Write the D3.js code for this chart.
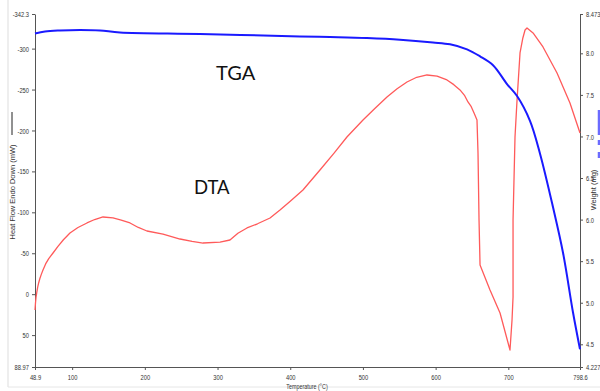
<!DOCTYPE html>
<html>
<head>
<meta charset="utf-8">
<script src="https://cdn.jsdelivr.net/npm/d3@7"></script>
<style>
  body { margin: 0; background: #fff; }
  svg { display: block; }
  .tick text { font-family: 'Liberation Sans', Arial, sans-serif; font-size: 8px; fill: #333; }
  .axis path, .axis line { stroke: #555; }
</style>
</head>
<body>
<svg id="chart" width="600" height="391"></svg>
<script>
// DTA trace: temperature (°C) / heat flow (mW)
const dtaTemp = [48.9, 49.6, 50.3, 51.4, 52.6, 54.0, 55.7, 57.7, 59.9, 63.5, 67.8, 73.7, 80.5, 88.0, 97.0, 108.0,
  120.4, 131.0, 142.4, 156.2, 167.5, 179.6, 191.0, 202.9, 225.0, 248.4, 265.0, 280.0, 303.4,
  317.1, 328.0, 340.5, 355.0, 372.2, 385.9, 400.0, 417.5, 440.9, 460.0, 478.0, 500.1, 516.0, 533.1, 547.0,
  560.6, 574.0, 588.1, 602.0, 615.6, 625.0, 633.5, 640.0, 644.5, 649.0, 653.0, 656.9, 658.3, 659.7, 661.1,
  674.8, 688.6, 702.3, 705.1, 706.5, 706.5, 709.2, 712.0, 716.1, 720.0, 723.0, 725.7,
  734.0, 747.7, 767.0, 784.8, 798.6];
const dtaHeat = [19.3, 10.5, 4.0, -2.5, -8.5, -14.0, -19.5, -24.5, -29.5, -37.0, -43.5, -50.3, -58.5, -66.5, -74.7, -81.5,
  -87.0, -91.2, -94.3, -93.1, -90.5, -87.0, -81.5, -77.2, -73.5, -67.4, -64.5, -62.5, -63.7,
  -66.2, -74.5, -80.9, -86.0, -93.1, -102.8, -113.5, -127.3, -151.7, -172.0, -192.0, -212.8, -226.5, -240.9, -251.0,
  -259.2, -265.0, -267.8, -266.5, -261.7, -256.0, -249.5, -242.5, -234.8, -229.0, -221.0, -212.8, -172.5, -90.6, -35.7,
  -5.1, 23.0, 68.2, 31.5, 3.4, -90.6, -192.0, -237.2, -294.7, -313.0, -322.8, -325.2,
  -319.1, -302.0, -270.2, -233.6, -196.9];

// TGA trace: temperature (°C) / weight (mg)
const tgaTemp = [48.9, 62.7, 83.3, 110.8, 138.3, 165.8, 275.9, 413.4, 454.7, 505.6, 551.0, 596.4, 619.8, 643.2,
  661.1, 679.0, 698.2, 712.0, 729.8, 743.6, 761.5, 775.3, 789.0, 798.6];
const tgaWeight = [8.239, 8.263, 8.275, 8.281, 8.275, 8.251, 8.232, 8.203, 8.195, 8.183, 8.164, 8.131, 8.108, 8.048,
  7.964, 7.857, 7.630, 7.486, 7.188, 6.793, 6.148, 5.599, 4.882, 4.440];

const tempTicks = [48.9, 100, 200, 300, 400, 500, 600, 700, 798.6];
const heatTicks = [-342.3, -300, -250, -200, -150, -100, -50, 0, 50, 88.97];
const weightTicks = [8.473, 8.0, 7.5, 7.0, 6.5, 6.0, 5.5, 5.0, 4.5, 4.227];

const svg = d3.select('#chart');
const m = {left: 35, right: 580, top: 14, bottom: 367};
const squeeze = 0.72;   // tick labels are a narrow face in the original

const x = d3.scaleLinear().domain([48.9, 798.6]).range([m.left, m.right]);
const yHeat = d3.scaleLinear().domain([-342.3, 88.97]).range([m.top, m.bottom]);
const yWeight = d3.scaleLinear().domain([4.227, 8.473]).range([m.bottom, m.top]);

// page frame
svg.append('line').attr('x1', 8).attr('x2', 8).attr('y1', 0).attr('y2', 387)
  .attr('stroke', '#ddd');
svg.append('line').attr('x1', 8).attr('x2', 600).attr('y1', 387).attr('y2', 387)
  .attr('stroke', '#e6e6e6');

const fmt = d => String(d);
// narrow the label glyphs without moving their anchor
const narrow = g => g.selectAll('.tick text').each(function() {
  const t = d3.select(this);
  const tx = +t.attr('x') || 0;
  t.attr('x', tx / squeeze).attr('transform', `scale(${squeeze},1)`);
});

svg.append('g').attr('class', 'axis')
  .attr('transform', `translate(0,${m.bottom})`)
  .call(d3.axisBottom(x).tickValues(tempTicks).tickSize(3).tickSizeOuter(0).tickFormat(fmt))
  .call(g => g.selectAll('text').attr('dy', '0.9em'))
  .call(narrow);

svg.append('g').attr('class', 'axis')
  .attr('transform', `translate(${m.left},0)`)
  .call(d3.axisLeft(yHeat).tickValues(heatTicks).tickSize(3).tickSizeOuter(0).tickFormat(fmt))
  .call(narrow);

svg.append('g').attr('class', 'axis')
  .attr('transform', `translate(${m.right},0)`)
  .call(d3.axisRight(yWeight).tickValues(weightTicks).tickSize(3).tickSizeOuter(0)
    .tickFormat(d => (d === 8.473 || d === 4.227) ? String(d) : d.toFixed(1)))
  .call(narrow);

// axis titles
svg.append('text')
  .attr('transform', 'translate(15,192) rotate(-90)')
  .attr('text-anchor', 'middle')
  .attr('font-family', 'Liberation Sans, Arial, sans-serif')
  .attr('font-size', 7.5).attr('fill', '#333')
  .text('Heat Flow Endo Down (mW)');
svg.append('line').attr('x1', 12).attr('x2', 12).attr('y1', 112).attr('y2', 135)
  .attr('stroke', '#222').attr('stroke-width', 1);

svg.append('text')
  .attr('transform', 'translate(596,190) rotate(-90)')
  .attr('text-anchor', 'middle')
  .attr('font-family', 'Liberation Sans, Arial, sans-serif')
  .attr('font-size', 7.5).attr('fill', '#333')
  .text('Weight (mg)');
svg.append('line').attr('x1', 599).attr('x2', 599).attr('y1', 110).attr('y2', 158)
  .attr('stroke', '#6b6bff').attr('stroke-width', 2.5).attr('stroke-dasharray', '25,5,5,7,6');

svg.append('text')
  .attr('transform', `translate(307,389) scale(${squeeze},1)`)
  .attr('text-anchor', 'middle')
  .attr('font-family', 'Liberation Sans, Arial, sans-serif')
  .attr('font-size', 7.5).attr('fill', '#333')
  .text('Temperature (°C)');

// traces
const dtaLine = d3.line().x(d => x(d[0])).y(d => yHeat(d[1]));
const tgaLine = d3.line().x(d => x(d[0])).y(d => yWeight(d[1])).curve(d3.curveCatmullRom);

svg.append('path')
  .datum(d3.zip(dtaTemp, dtaHeat))
  .attr('d', dtaLine)
  .attr('fill', 'none').attr('stroke', '#ff5a5a').attr('stroke-width', 1.3)
  .attr('stroke-linejoin', 'round');

svg.append('path')
  .datum(d3.zip(tgaTemp, tgaWeight))
  .attr('d', tgaLine)
  .attr('fill', 'none').attr('stroke', '#1a1aff').attr('stroke-width', 2);

// annotations
svg.append('text').attr('x', 216).attr('y', 80)
  .attr('font-family', 'Lato, sans-serif').attr('font-size', 20).attr('fill', '#111')
  .text('TGA');
svg.append('text').attr('x', 194).attr('y', 194)
  .attr('font-family', 'Lato, sans-serif').attr('font-size', 18.5).attr('fill', '#111')
  .text('DTA');
</script>
</body>
</html>
